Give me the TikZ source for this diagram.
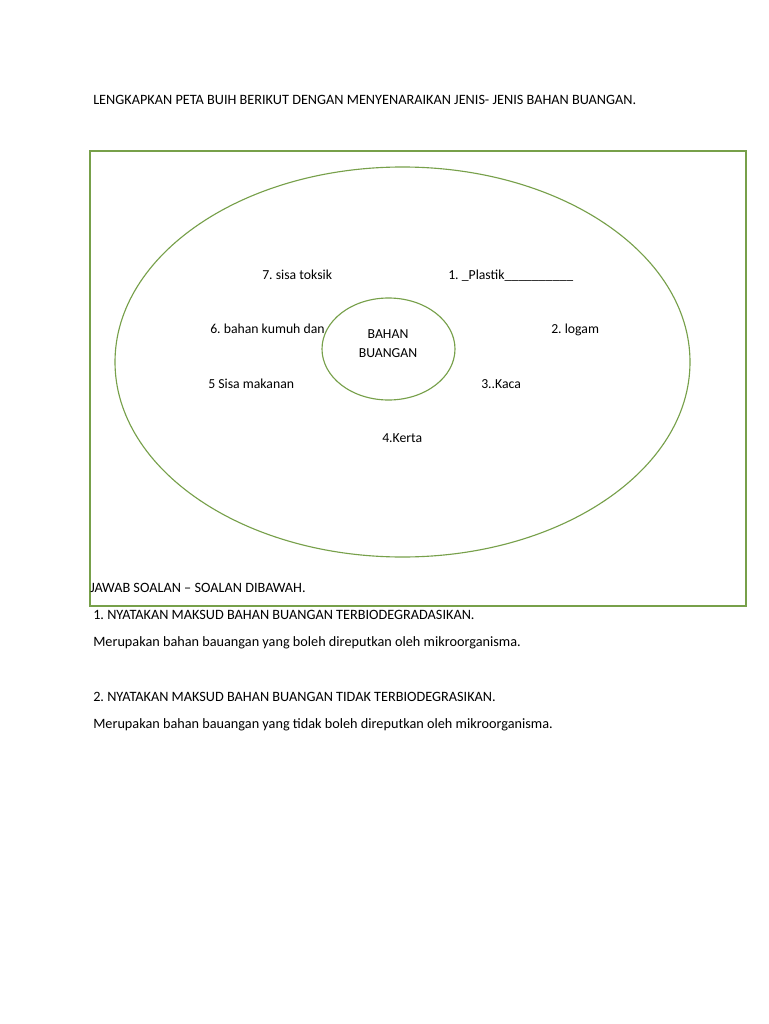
\documentclass[tikz,border=0pt]{standalone}
\usepackage{fontspec}
\setmainfont{Carlito}
\usetikzlibrary{shapes.geometric}
\definecolor{frame}{HTML}{77A04A}
\frenchspacing
\begin{document}
\begin{tikzpicture}[x=0.8pt,y=-0.8pt,
  txt/.style={anchor=base west,inner sep=0pt,font=\fontsize{11}{13}\selectfont},
  ltxt/.style={anchor=base west,inner sep=0pt,font=\fontsize{11.4}{13}\selectfont},
  ctxt/.style={anchor=base,inner sep=0pt,font=\fontsize{11}{13}\selectfont},
  line/.style={draw=frame,line width=0.9pt}]
\useasboundingbox[fill=white] (0,0) rectangle (768,1024);
\node[ltxt] (title) at (93,105) {LENGKAPKAN PETA BUIH BERIKUT DENGAN MENYENARAIKAN JENIS- JENIS BAHAN BUANGAN.};
\draw[line] (90,151) rectangle (746,606);
\draw[line] (402.5,362) ellipse [x radius=287.5, y radius=195];
\node[line,ellipse,minimum width=133*0.8pt,minimum height=102*0.8pt,inner sep=0pt] (centre) at (388.5,349) {};
\node[ctxt] (c1) at (388,338) {BAHAN};
\node[ctxt] (c2) at (388,357) {BUANGAN};
\node[txt] (i7) at (262,279) {7. sisa toksik};
\node[txt] (i1) at (448,279) {1. \_Plastik\_\_\_\_\_\_\_\_\_\_};
\node[txt] (i6) at (210,333) {6. bahan kumuh dan};
\node[txt] (i2) at (551,333) {2. logam};
\node[txt] (i5) at (208,388) {5 Sisa makanan};
\node[txt] (i3) at (481,388) {3..Kaca};
\node[txt] (i4) at (382,442) {4.Kerta};
\node[ltxt] (q0) at (90,592) {JAWAB SOALAN – SOALAN DIBAWAH.};
\node[ltxt] (q1) at (93,619) {1. NYATAKAN MAKSUD BAHAN BUANGAN TERBIODEGRADASIKAN.};
\node[ltxt] (a1) at (93,646) {Merupakan bahan bauangan yang boleh direputkan oleh mikroorganisma.};
\node[ltxt] (q2) at (93,701) {2. NYATAKAN MAKSUD BAHAN BUANGAN TIDAK TERBIODEGRASIKAN.};
\node[ltxt] (a2) at (93,728) {Merupakan bahan bauangan yang tidak boleh direputkan oleh mikroorganisma.};
\end{tikzpicture}
\end{document}
